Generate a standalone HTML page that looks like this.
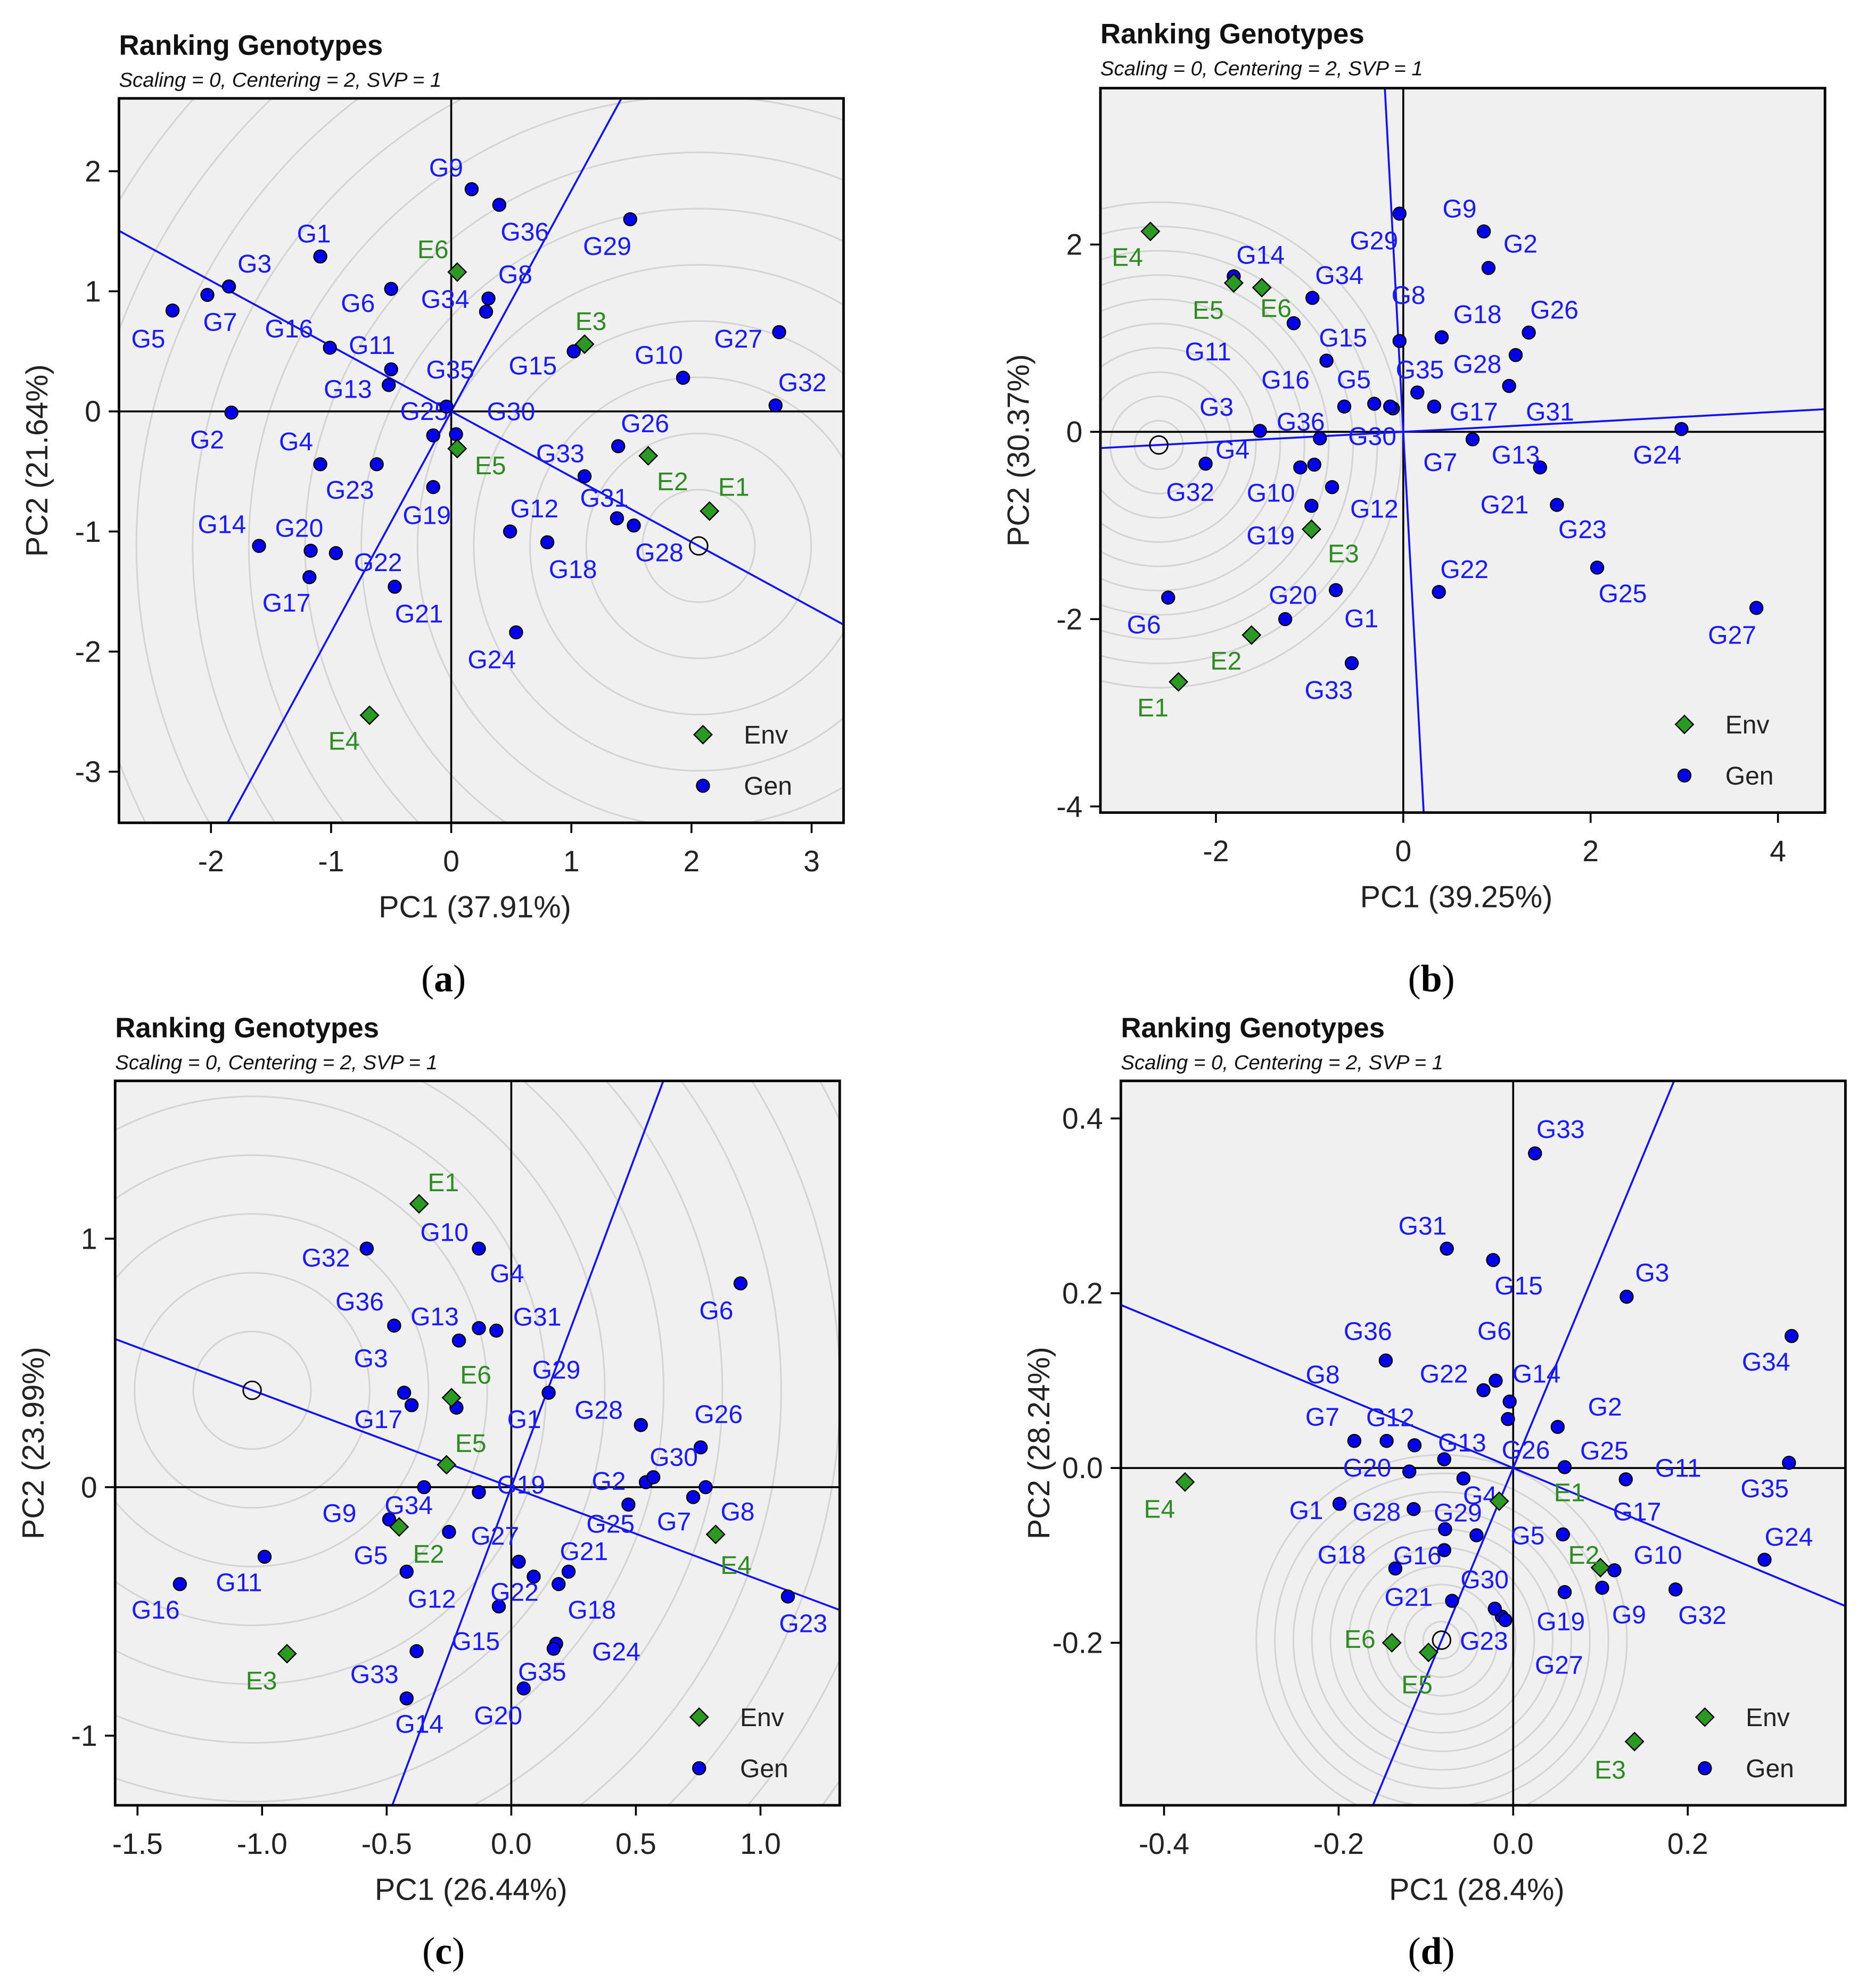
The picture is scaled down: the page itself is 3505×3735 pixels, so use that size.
<!DOCTYPE html>
<html><head><meta charset="utf-8">
<style>
html,body{margin:0;padding:0;background:#fff;width:3505px;height:3735px;overflow:hidden;position:relative;}
svg{display:block;position:absolute;left:0;top:0;font-family:"Liberation Sans",sans-serif;}
</style></head>
<body><svg id="fig" width="3505" height="3735" viewBox="0 0 1460 1556" xmlns="http://www.w3.org/2000/svg"><rect width="1460" height="1556" fill="#fff"/></svg><script>
const genNames = ["G1","G2","G3","G4","G5","G6","G7","G8","G9","G10","G11","G12","G13","G14","G15","G16","G17","G18","G19","G20","G21","G22","G23","G24","G25","G26","G27","G28","G29","G30","G31","G32","G33","G34","G35","G36"];
const envNames = ["E1","E2","E3","E4","E5","E6"];

// Panel a
const genXa = [-1.09,-1.83,-1.85,-1.09,-2.32,-0.50,-2.03,0.31,0.17,1.93,-0.50,0.49,-0.52,-1.60,1.02,-1.01,-1.18,0.80,-0.15,-1.17,-0.47,-0.96,-0.62,0.54,-0.15,1.39,2.73,1.52,1.49,0.04,1.38,2.70,1.11,0.29,-0.04,0.40];
const genYa = [1.29,-0.01,1.04,-0.44,0.84,1.02,0.97,0.94,1.85,0.28,0.35,-1.00,0.22,-1.12,0.50,0.53,-1.38,-1.09,-0.63,-1.16,-1.46,-1.18,-0.44,-1.84,-0.20,-0.29,0.66,-0.95,1.60,-0.19,-0.89,0.05,-0.54,0.83,0.04,1.72];
const envXa = [2.15,1.64,1.11,-0.68,0.05,0.05];
const envYa = [-0.83,-0.37,0.56,-2.53,-0.31,1.16];
const idealA = [2.06,-1.12];
const xTicksA = [-2,-1,0,1,2,3];
const yTicksA = [2,1,0,-1,-2,-3];

// Panel b
const genXb = [-0.72,0.91,-1.53,-1.10,-0.31,-2.51,-0.11,-0.04,0.86,-0.95,-1.17,-0.76,1.46,-1.81,-0.82,-0.63,0.33,0.41,-0.98,-1.26,0.74,0.38,1.64,2.97,2.07,1.34,3.77,1.20,-0.04,-0.14,1.13,-2.11,-0.55,-0.97,0.15,-0.89];
const genYb = [-1.69,1.75,0.01,-0.38,0.30,-1.77,0.25,0.97,2.14,-0.35,1.16,-0.59,-0.38,1.66,0.76,0.27,0.27,1.01,-0.79,-2.00,-0.08,-1.71,-0.78,0.03,-1.45,1.06,-1.88,0.82,2.33,0.27,0.49,-0.34,-2.47,1.43,0.42,-0.07];
const envXb = [-2.40,-1.62,-0.98,-2.70,-1.81,-1.51];
const envYb = [-2.67,-2.17,-1.04,2.14,1.59,1.54];
const idealB = [-2.61,-0.14];
const xTicksB = [-2,0,2,4];
const yTicksB = [2,0,-2,-4];

// Panel c
const genXc = [-0.22,0.54,-0.43,-0.13,-0.42,0.92,0.73,0.78,-0.49,-0.13,-0.99,0.03,-0.21,-0.42,-0.05,-1.33,-0.40,0.19,-0.13,0.05,0.23,0.09,1.11,0.18,0.47,0.76,-0.25,0.52,0.15,0.57,-0.06,-0.58,-0.38,-0.35,0.17,-0.47];
const genYc = [0.32,0.02,0.38,0.64,-0.34,0.82,-0.04,0.00,-0.13,0.96,-0.28,-0.30,0.59,-0.85,-0.48,-0.39,0.33,-0.39,-0.02,-0.81,-0.34,-0.36,-0.44,-0.63,-0.07,0.16,-0.18,0.25,0.38,0.04,0.63,0.96,-0.66,0.00,-0.65,0.65];
const envXc = [-0.37,-0.45,-0.90,0.82,-0.26,-0.24];
const envYc = [1.14,-0.16,-0.67,-0.19,0.09,0.36];
const idealC = [-1.04,0.39];
const xTicksC = [-1.5,-1.0,-0.5,0.0,0.5,1.0];
const yTicksC = [1,0,-1];

// Panel d
const genXd = [-0.199,0.051,0.130,-0.057,-0.042,-0.020,-0.182,-0.145,0.102,0.116,0.129,-0.113,-0.079,-0.004,-0.023,-0.079,0.057,-0.135,0.059,-0.119,-0.070,-0.034,-0.013,0.288,0.059,-0.006,-0.009,-0.114,-0.078,-0.021,-0.076,0.186,0.025,0.319,0.316,-0.146];
const genYd = [-0.041,0.047,0.196,-0.012,-0.077,0.100,0.031,0.031,-0.137,-0.117,-0.013,0.026,0.010,0.076,0.238,-0.094,-0.076,-0.115,-0.142,-0.004,-0.152,0.089,-0.170,-0.105,0.001,0.056,-0.174,-0.047,-0.070,-0.161,0.251,-0.139,0.360,0.151,0.006,0.123];
const envXd = [-0.016,0.100,0.139,-0.376,-0.097,-0.139];
const envYd = [-0.038,-0.114,-0.313,-0.016,-0.211,-0.200];
const idealD = [-0.082,-0.197];
const xTicksD = [-0.4,-0.2,0.0,0.2];
const yTicksD = [0.4,0.2,0.0,-0.2];

// layout (label offsets in px)
const offGa=[[-5,-18],[-19,21],[20,-18],[-19,-18],[-19,22],[-26,11],[10,21],[21,-19],[-20,-17],[-19,-18],[-15,-19],[19,-18],[-32,3],[-29,-17],[-32,11],[-32,-15],[-18,20],[20,21],[-5,22],[-9,-18],[19,21],[33,7],[-21,20],[-19,21],[-7,-19],[21,-18],[-32,5],[20,21],[-18,21],[43,-18],[-10,-16],[21,-18],[-19,-18],[-32,-10],[3,-29],[20,21]];
const offEa=[[19,-19],[19,20],[5,-18],[-20,20],[26,13],[-19,-18]];
const offGb=[[20,22],[25,-19],[-34,-19],[-53,-14],[-16,-19],[-19,21],[37,42],[7,-36],[-19,-18],[-34,22],[-67,22],[33,17],[-19,-10],[21,-17],[13,-18],[-46,-21],[31,4],[28,-18],[-32,23],[6,-19],[25,51],[20,-18],[20,19],[-19,20],[20,20],[20,-18],[-19,21],[-30,7],[-20,21],[-14,23],[32,20],[-12,22],[-18,21],[21,-18],[2,-18],[-15,-13]];
const offEb=[[-20,20],[-20,20],[25,19],[-18,20],[-20,21],[11,16]];
const offGc=[[53,9],[-29,-1],[-26,-27],[22,-43],[-28,-13],[-19,21],[-15,19],[25,19],[-39,-5],[-27,-13],[-20,20],[-68,29],[-19,-19],[10,20],[-18,27],[-19,20],[-26,11],[26,20],[33,-6],[-20,21],[12,-16],[-15,12],[12,21],[47,6],[-14,15],[14,-26],[36,3],[-33,-12],[6,-18],[16,-16],[32,-11],[-32,7],[-33,18],[-12,14],[-9,18],[-27,-19]];
const offEc=[[19,-17],[23,21],[-20,21],[16,24],[19,-17],[19,-18]];
const offGd=[[-26,5],[37,-16],[20,-19],[13,13],[40,0],[-1,-39],[-25,-19],[-50,-52],[21,21],[34,-12],[41,-9],[-19,-22],[14,-13],[21,-22],[20,20],[-21,4],[58,-18],[-42,-11],[-3,23],[-33,-3],[-34,-3],[-31,-13],[-14,19],[19,-18],[31,-13],[14,24],[42,35],[-29,2],[10,-13],[-8,-23],[-19,-18],[21,20],[20,-19],[-20,20],[-19,20],[-14,-23]];
const offEd=[[55,-7],[-13,-10],[-19,22],[-20,21],[-9,25],[-25,-3]];

const panels = [
 {id:"a",x0:93,x1:660,y0:77,y1:644,ox:353,oy:322,s:94,sy:94,gx:genXa,gy:genYa,ex:envXa,ey:envYa,ideal:idealA,xt:xTicksA,yt:yTicksA,dec:0,og:offGa,oe:offEa,ring:44,nr:14,pc1:"PC1 (37.91%)",pc2:"PC2 (21.64%)",ty:43,cap:[347,766]},
 {id:"b",x0:861,x1:1428,y0:69,y1:636,ox:1098,oy:338,s:73.3,sy:73.3,gx:genXb,gy:genYb,ex:envXb,ey:envYb,ideal:idealB,xt:xTicksB,yt:yTicksB,dec:0,og:offGb,oe:offEb,ring:19,nr:10,pc1:"PC1 (39.25%)",pc2:"PC2 (30.37%)",ty:34,cap:[1120,766]},
 {id:"c",x0:90,x1:657,y0:846,y1:1413,ox:400,oy:1164,s:195,sy:194.5,gx:genXc,gy:genYc,ex:envXc,ey:envYc,ideal:idealC,xt:xTicksC,yt:yTicksC,dec:1,ydec:0,og:offGc,oe:offEc,ring:46,nr:12,pc1:"PC1 (26.44%)",pc2:"PC2 (23.99%)",ty:812,cap:[347,1527]},
 {id:"d",x0:877,x1:1444,y0:846,y1:1413,ox:1184,oy:1149,s:683,sy:684,gx:genXd,gy:genYd,ex:envXd,ey:envYd,ideal:idealD,xt:xTicksD,yt:yTicksD,dec:1,ydec:1,og:offGd,oe:offEd,ring:14.5,nr:10,pc1:"PC1 (28.4%)",pc2:"PC2 (28.24%)",ty:812,cap:[1120,1527]}
];
const NS="http://www.w3.org/2000/svg";
const fig=document.getElementById("fig");
function mk(tag,attrs,parent,txt){const e=document.createElementNS(NS,tag);for(const k in attrs)e.setAttribute(k,attrs[k]);if(txt!==undefined)e.textContent=txt;(parent||fig).appendChild(e);return e;}
function fmt(v,d){let s=v.toFixed(d);if(s==="-0.0")s="0.0";return s;}

panels.forEach(p=>{
 const g=mk("g",{});
 
 
 const X=v=>p.ox+v*p.s, Y=v=>p.oy-v*p.sy;
 const defs=mk("defs",{},g);
 const cp=mk("clipPath",{id:"clip"+p.id},defs);
 mk("rect",{x:p.x0,y:p.y0,width:p.x1-p.x0,height:p.y1-p.y0},cp);
 const bg=mk("rect",{x:p.x0,y:p.y0,width:p.x1-p.x0,height:p.y1-p.y0,fill:"#f0f0f0"},g);
 
 
 const cg=mk("g",{"clip-path":"url(#clip"+p.id+")"},g);
 const ix=X(p.ideal[0]), iy=Y(p.ideal[1]);
 for(let k=1;k<=p.nr;k++){
  const c=mk("circle",{cx:ix,cy:iy,r:k*p.ring,fill:"none",stroke:"#d4d4d4","stroke-width":1.3},cg);
  
  
 }
 const h0=mk("line",{x1:p.x0,x2:p.x1,y1:p.oy,y2:p.oy,stroke:"#000","stroke-width":1.5},cg);
 
 
 const v0=mk("line",{x1:p.ox,x2:p.ox,y1:p.y0,y2:p.y1,stroke:"#000","stroke-width":1.5},cg);
 
 
 const dx=ix-p.ox, dy=iy-p.oy, L=Math.hypot(dx,dy), ux=dx/L, uy=dy/L, B=2000;
 const l1=mk("line",{x1:p.ox-ux*B,y1:p.oy-uy*B,x2:p.ox+ux*B,y2:p.oy+uy*B,stroke:"#1010ff","stroke-width":1.5},cg);
 
 
 const l2=mk("line",{x1:p.ox+uy*B,y1:p.oy-ux*B,x2:p.ox-uy*B,y2:p.oy+ux*B,stroke:"#1010ff","stroke-width":1.5},cg);
 
 
 const ic=mk("circle",{cx:ix,cy:iy,r:7,fill:"none",stroke:"#000","stroke-width":1.2},cg);
 
 
 p.gx.forEach((v,i)=>{
  const px=X(v), py=Y(p.gy[i]);
  const c=mk("circle",{cx:px,cy:py,r:5,fill:"#0000ee",stroke:"#000","stroke-width":1},cg);
  
  
  const t=mk("text",{x:px+p.og[i][0],y:py+p.og[i][1]+7,"font-size":20,fill:"#1a1aff","text-anchor":"middle"},cg,genNames[i]);
  
  
 });
 p.ex.forEach((v,i)=>{
  const px=X(v), py=Y(p.ey[i]);
  const d=mk("polygon",{points:`${px},${py-7} ${px+7},${py} ${px},${py+7} ${px-7},${py}`,fill:"#2a9a22",stroke:"#000","stroke-width":1},cg);
  
  
  const t=mk("text",{x:px+p.oe[i][0],y:py+p.oe[i][1]+7,"font-size":20,fill:"#2e8b22","text-anchor":"middle"},cg,envNames[i]);
  
  
 });
 const lx=p.x1-110, ly=p.y1-69;
 const ld=mk("polygon",{points:`${lx},${ly-7} ${lx+7},${ly} ${lx},${ly+7} ${lx-7},${ly}`,fill:"#2a9a22",stroke:"#000","stroke-width":1},g);
 
 
 const lt1=mk("text",{x:lx+32,y:ly+7,"font-size":20,fill:"#222"},g,"Env");
 
 
 const lc=mk("circle",{cx:lx,cy:ly+40,r:5,fill:"#0000ee",stroke:"#000","stroke-width":1},g);
 
 
 const lt2=mk("text",{x:lx+32,y:ly+47,"font-size":20,fill:"#222"},g,"Gen");
 
 
 const fr=mk("rect",{x:p.x0,y:p.y0,width:p.x1-p.x0,height:p.y1-p.y0,fill:"none",stroke:"#000","stroke-width":2},g);
 
 
 p.xt.forEach(v=>{
  const x=X(v);
  mk("line",{x1:x,x2:x,y1:p.y1,y2:p.y1+8,stroke:"#000","stroke-width":1.5},g);
  const t=mk("text",{x:x,y:p.y1+38,"font-size":23,"text-anchor":"middle",fill:"#222"},g,fmt(v,p.dec));
  
  
 });
 p.yt.forEach(v=>{
  const y=Y(v);
  mk("line",{x1:p.x0-8,x2:p.x0,y1:y,y2:y,stroke:"#000","stroke-width":1.5},g);
  const t=mk("text",{x:p.x0-14,y:y+8,"font-size":23,"text-anchor":"end",fill:"#222"},g,fmt(v,p.ydec||0));
  
  
 });
 const xt=mk("text",{x:(p.x0+p.x1)/2-5,y:p.y1+74,"font-size":24,"text-anchor":"middle",fill:"#222"},g,p.pc1);
 
 
 const yx=p.x0-56, yy=(p.y0+p.y1)/2;
 const yt=mk("text",{x:yx,y:yy,"font-size":24,"text-anchor":"middle",fill:"#222",transform:`rotate(-90 ${yx} ${yy})`},g,p.pc2);
 
 
 const tt=mk("text",{x:p.x0,y:p.ty,"font-size":22,"font-weight":"bold",fill:"#111"},g,"Ranking Genotypes");
 
 
 const st=mk("text",{x:p.x0,y:p.ty+25,"font-size":16,"font-style":"italic",fill:"#111"},g,"Scaling = 0, Centering = 2, SVP = 1");
 
 
 const cap=mk("text",{x:p.cap[0],y:p.cap[1]+10,"font-size":30,"text-anchor":"middle",fill:"#000","font-family":"Liberation Serif, serif"},g);
 
 
 mk("tspan",{},cap,"(");
 mk("tspan",{"font-weight":"bold"},cap,p.id);
 mk("tspan",{},cap,")");
});
</script></body></html>
